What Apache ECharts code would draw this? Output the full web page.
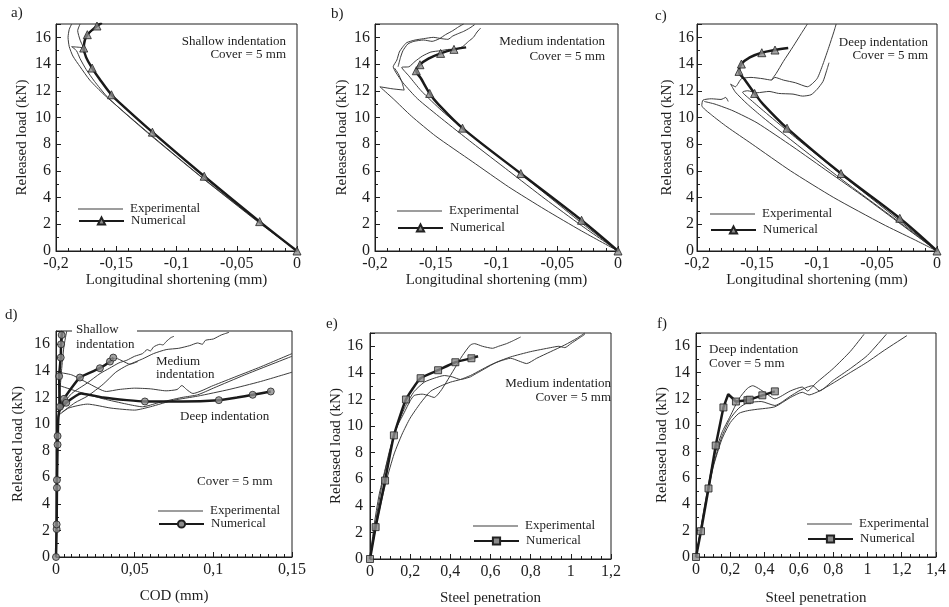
<!DOCTYPE html>
<html>
<head>
<meta charset="utf-8">
<script src="https://cdn.jsdelivr.net/npm/echarts@6/dist/echarts.min.js"></script>
<style>html,body{margin:0;padding:0;background:#fff}#main{width:949px;height:607px}</style>
</head>
<body>
<div id="main"></div>
<script>
// ---- data: [x, load kN] ----
// a) shallow indentation, longitudinal shortening (mm)
var expA1 = [[0,0],[-0.032,2.2],[-0.08,5.6],[-0.124,8.9],[-0.146,10.6],[-0.16,11.7],[-0.172,12.8],[-0.18,13.8],[-0.186,14.6],[-0.189,15.3],[-0.19,16.0],[-0.189,16.6],[-0.187,17]];
var expA2 = [[0,0],[-0.032,2.15],[-0.079,5.5],[-0.122,8.7],[-0.145,10.5],[-0.158,11.6],[-0.168,12.7],[-0.175,13.6],[-0.18,14.4],[-0.183,15.0],[-0.187,15.3],[-0.18,15.25],[-0.177,15.2],[-0.18,15.8],[-0.182,16.5],[-0.18,17]];
var expA3 = [[-0.178,15.0],[-0.176,15.9],[-0.171,16.4],[-0.166,16.8],[-0.162,17]];
var numA = [[0,0],[-0.031,2.2],[-0.077,5.6],[-0.12,8.9],[-0.146,11.0],[-0.154,11.7],[-0.164,12.9],[-0.17,13.7],[-0.175,14.5],[-0.177,15.2],[-0.176,15.8],[-0.174,16.2],[-0.166,16.85],[-0.162,17.1]];
var marksA = [[0,0],[-0.031,2.2],[-0.077,5.6],[-0.12,8.9],[-0.154,11.7],[-0.17,13.7],[-0.177,15.2],[-0.174,16.2],[-0.166,16.85]];

// b) medium indentation
var expB1 = [[0,0],[-0.03,1.5],[-0.06,3.1],[-0.09,4.8],[-0.12,6.7],[-0.15,8.6],[-0.17,10.1],[-0.185,11.4],[-0.196,12.3],[-0.186,12.15],[-0.176,12.05],[-0.178,12.7],[-0.181,13.3],[-0.184,13.7]];
var expB2 = [[0,0],[-0.03,1.9],[-0.06,3.9],[-0.09,6.0],[-0.12,8.1],[-0.145,9.9],[-0.165,11.4],[-0.177,12.6],[-0.183,13.4],[-0.185,13.8],[-0.182,14.3],[-0.18,14.9],[-0.177,15.3],[-0.174,15.6],[-0.167,15.8],[-0.16,15.9],[-0.152,16.0],[-0.145,15.9],[-0.14,15.85],[-0.136,16.1],[-0.131,16.3],[-0.127,16.45],[-0.122,16.7],[-0.118,16.95]];
var expB3 = [[0,0],[-0.03,2.1],[-0.06,4.3],[-0.09,6.5],[-0.12,8.6],[-0.145,10.5],[-0.162,12.0],[-0.172,13.1],[-0.178,13.75],[-0.172,13.8],[-0.167,14.2],[-0.161,14.6],[-0.154,14.9],[-0.146,15.0],[-0.139,15.1],[-0.134,15.1],[-0.128,15.3],[-0.123,15.7],[-0.119,16.0],[-0.116,16.4],[-0.113,16.7]];
var expB4 = [[-0.181,13.8],[-0.179,14.5],[-0.177,15.0],[-0.173,15.5],[-0.168,15.7],[-0.16,15.8],[-0.153,15.7],[-0.147,15.9],[-0.142,16.2],[-0.136,16.5],[-0.131,16.8],[-0.127,17]];
var numB = [[0,0],[-0.03,2.3],[-0.08,5.8],[-0.128,9.2],[-0.148,11.0],[-0.155,11.8],[-0.162,12.9],[-0.166,13.5],[-0.163,13.95],[-0.156,14.4],[-0.146,14.8],[-0.135,15.1],[-0.125,15.25]];
var marksB = [[0,0],[-0.03,2.3],[-0.08,5.8],[-0.128,9.2],[-0.155,11.8],[-0.166,13.5],[-0.163,13.95],[-0.146,14.8],[-0.135,15.1]];

// c) deep indentation
var expC1 = [[0,0],[-0.02,0.9],[-0.045,2.0],[-0.086,4.0],[-0.122,6.0],[-0.154,8.0],[-0.175,9.3],[-0.188,10.2],[-0.196,10.9],[-0.195,11.3],[-0.188,11.4],[-0.18,11.35],[-0.176,11.5],[-0.174,11.2]];
var expC2 = [[0,0],[-0.03,2.0],[-0.06,4.0],[-0.09,5.9],[-0.12,7.8],[-0.15,9.6],[-0.17,10.5],[-0.185,11.0],[-0.194,11.2]];
var expC3 = [[0,0],[-0.035,2.4],[-0.08,5.4],[-0.12,8.2],[-0.145,10.0],[-0.158,11.0],[-0.168,11.9],[-0.172,12.5],[-0.168,12.3],[-0.163,12.9],[-0.155,13.0],[-0.145,12.9],[-0.138,12.8],[-0.135,13.0],[-0.128,12.8],[-0.118,12.6],[-0.108,12.3],[-0.1,12.9],[-0.095,14.0],[-0.09,15.3],[-0.086,16.4],[-0.084,17]];
var expC4 = [[0,0],[-0.033,2.4],[-0.078,5.6],[-0.118,8.5],[-0.142,10.3],[-0.155,11.3],[-0.162,11.9],[-0.158,12.0],[-0.15,11.85],[-0.14,11.95],[-0.132,11.8],[-0.12,11.75],[-0.112,11.6],[-0.105,11.7],[-0.1,12.1],[-0.095,12.7],[-0.092,13.5],[-0.09,14.1]];
var expC5 = [[-0.138,12.8],[-0.134,13.3],[-0.128,14.2],[-0.12,15.3],[-0.113,16.3],[-0.108,17]];
var numC = [[0,0],[-0.031,2.45],[-0.08,5.8],[-0.125,9.2],[-0.145,11.0],[-0.152,11.8],[-0.16,12.8],[-0.165,13.45],[-0.163,14.0],[-0.156,14.5],[-0.146,14.85],[-0.135,15.05],[-0.124,15.2]];
var marksC = [[0,0],[-0.031,2.45],[-0.08,5.8],[-0.125,9.2],[-0.152,11.8],[-0.165,13.45],[-0.163,14.0],[-0.146,14.85],[-0.135,15.05]];

// d) crack opening displacement (mm)
var expD1 = [[0,0],[0.0003,3],[0.0006,6],[0.001,9],[0.0015,11],[0.002,13],[0.003,15],[0.0045,17]];
var expD2 = [[0,0],[0.0005,4],[0.001,8],[0.002,11.5],[0.0035,14],[0.005,15.8],[0.0068,17]];
var expD3 = [[0.003,11.3],[0.01,12.3],[0.02,13.1],[0.028,13.8],[0.034,14.2],[0.04,14.6],[0.045,14.8],[0.05,15.1],[0.055,15.3],[0.058,15.6],[0.06,15.5],[0.062,15.8],[0.066,16.0],[0.068,15.95],[0.07,16.2],[0.073,16.5],[0.075,16.6]];
var expD4 = [[0.004,10.9],[0.012,11.6],[0.02,12.1],[0.03,13.0],[0.038,13.9],[0.045,14.4],[0.055,14.9],[0.062,15.3],[0.07,15.6],[0.078,15.7],[0.085,15.9],[0.09,16.1],[0.093,16.0],[0.095,16.3],[0.1,16.4],[0.105,16.7],[0.11,16.9]];
var expD5 = [[0.034,14.9],[0.038,14.95],[0.043,14.7],[0.047,14.5],[0.052,14.7]];
var expD6 = [[0.001,13.9],[0.01,13.7],[0.02,13.1],[0.032,12.45],[0.04,12.6],[0.05,12.7],[0.06,12.65],[0.07,12.5],[0.077,12.6],[0.08,12.9],[0.083,12.6],[0.087,12.3],[0.1,12.9],[0.115,13.6],[0.13,14.3],[0.15,15.3]];
var expD7 = [[0.002,12.9],[0.015,12.4],[0.03,11.9],[0.045,11.5],[0.055,11.3],[0.065,11.6],[0.08,12.0],[0.09,12.2],[0.1,12.7],[0.12,13.7],[0.15,15.1]];
var expD8 = [[0.001,10.6],[0.008,11.2],[0.02,11.5],[0.035,11.2],[0.05,11.05],[0.06,11.3],[0.075,11.8],[0.09,12.1],[0.11,12.6],[0.13,13.2],[0.15,13.9]];
var numD1 = [[0,0],[0.0004,2.1],[0.0006,5.2],[0.001,8.4],[0.0015,10.5],[0.0025,11.3],[0.0022,12.5],[0.002,13.6],[0.003,15.0],[0.0032,16.0],[0.0036,16.7],[0.004,17]];
var marksD1 = [[0,0],[0.0004,2.1],[0.0004,2.45],[0.0006,5.2],[0.0006,5.8],[0.001,8.45],[0.001,9.1],[0.0025,11.3],[0.002,13.6],[0.003,15.0],[0.0032,16.0],[0.0036,16.7]];
var numD2 = [[0.0025,11.1],[0.0051,11.9],[0.0152,13.5],[0.0279,14.2],[0.0343,14.7],[0.0364,15.0]];
var marksD2 = [[0.0051,11.9],[0.0152,13.5],[0.0279,14.2],[0.0343,14.7],[0.0364,15.0]];
var numD3 = [[0.002,11.0],[0.0065,11.6],[0.016,12.3],[0.03,12.0],[0.045,11.8],[0.0565,11.7],[0.08,11.7],[0.1035,11.8],[0.115,12.0],[0.125,12.2],[0.1365,12.45]];
var marksD3 = [[0.0065,11.6],[0.0565,11.7],[0.1035,11.8],[0.125,12.2],[0.1365,12.45]];

// e) medium indentation, steel penetration
var expE1 = [[0,0],[0.02,2.5],[0.045,4.8],[0.07,6.4],[0.1,8.3],[0.13,9.8],[0.17,11.0],[0.2,11.9],[0.22,12.3],[0.26,12.4],[0.29,12.3],[0.32,12.15],[0.35,12.6],[0.38,13.3],[0.42,14.3],[0.46,15.3],[0.5,16.1],[0.52,16.2],[0.56,16.0],[0.61,15.85],[0.64,16.0],[0.68,16.2],[0.71,16.4],[0.75,16.7]];
var expE2 = [[0,0],[0.03,3.0],[0.06,5.6],[0.1,8.2],[0.14,10.2],[0.18,11.6],[0.22,12.6],[0.27,13.3],[0.32,13.6],[0.37,13.8],[0.41,13.7],[0.45,13.5],[0.5,13.7]];
var expE3 = [[0,0],[0.04,3.2],[0.08,5.8],[0.12,7.9],[0.16,9.4],[0.2,10.6],[0.25,11.7],[0.3,12.6],[0.35,13.0],[0.4,13.3],[0.45,13.5],[0.5,13.8],[0.55,14.2],[0.6,14.6],[0.65,14.9],[0.7,15.1],[0.74,14.9],[0.78,14.7],[0.83,15.1],[0.9,15.6],[0.97,16.1],[1.03,16.6],[1.07,17]];
var expE4 = [[0.5,13.7],[0.57,14.3],[0.63,14.8],[0.7,15.2],[0.8,15.6],[0.9,15.9],[0.94,16.0],[0.97,15.9],[1.0,16.2],[1.04,16.6],[1.07,16.9]];
var numE = [[0,0],[0.028,2.4],[0.075,5.9],[0.119,9.3],[0.179,12.0],[0.252,13.6],[0.339,14.2],[0.425,14.8],[0.505,15.1],[0.538,15.25]];
var marksE = [[0,0],[0.028,2.4],[0.075,5.9],[0.119,9.3],[0.179,12.0],[0.252,13.6],[0.339,14.2],[0.425,14.8],[0.505,15.1]];

// f) deep indentation, steel penetration
var expF1 = [[0,0],[0.05,3.9],[0.1,7.3],[0.15,9.4],[0.2,10.7],[0.25,12.0],[0.3,12.8],[0.33,13.0],[0.4,12.5],[0.46,12.0],[0.55,12.6],[0.62,12.9],[0.65,12.6],[0.7,13.2],[0.8,14.3],[0.9,15.6],[0.98,16.9]];
var expF2 = [[0,0],[0.05,3.7],[0.1,6.9],[0.15,9.1],[0.2,10.5],[0.25,11.3],[0.3,11.7],[0.38,11.8],[0.46,11.5],[0.55,12.2],[0.6,12.6],[0.65,12.9],[0.68,13.0],[0.72,12.6],[0.8,13.4],[0.9,14.3],[1.0,15.3],[1.11,16.9]];
var expF3 = [[0,0],[0.05,3.6],[0.1,6.8],[0.15,8.9],[0.2,10.2],[0.25,10.9],[0.3,11.1],[0.35,11.2],[0.46,11.4],[0.55,12.1],[0.62,12.5],[0.66,12.3],[0.72,12.6],[0.8,13.2],[0.9,14.0],[1.0,14.8],[1.1,15.7],[1.23,16.8]];
var numF = [[0,0],[0.029,1.96],[0.073,5.2],[0.115,8.46],[0.16,11.35],[0.188,12.35],[0.233,11.8],[0.3,11.9],[0.313,11.94],[0.387,12.27],[0.46,12.57]];
var marksF = [[0,0],[0.029,1.96],[0.073,5.2],[0.115,8.46],[0.16,11.35],[0.233,11.8],[0.3,11.9],[0.313,11.94],[0.387,12.27],[0.46,12.57]];

var loadTicks = {min: 0, max: 17, interval: 2};

var FONT = '"Liberation Serif", "Times New Roman", serif';
var INK = '#1e1e1e';
var EXP = '#3c3c3c';

function fmtDec(v) { return String(+v.toFixed(3)).replace('.', ','); }
function fmtLoad(v) { return v % 2 === 0 ? String(v) : ''; }

var panels = [
  {key:'A', grid:{left:56, top:24, width:241, height:227}, x:{min:-0.2, max:0, interval:0.05, minor:5},
   xName:'Longitudinal shortening (mm)', xGap:20, yGap:26, yMargin:5,
   exp:[expA1, expA2, expA3], num:[numA], marks:[marksA], sym:'triangle', size:8, sm:0.35, leg:[78, 209, 221]},
  {key:'B', grid:{left:375, top:24, width:243, height:227}, x:{min:-0.2, max:0, interval:0.05, minor:5},
   xName:'Longitudinal shortening (mm)', xGap:20, yGap:25, yMargin:5,
   exp:[expB1, expB2, expB3, expB4], num:[numB], marks:[marksB], sym:'triangle', size:8, sm:0.35, leg:[397, 211, 228]},
  {key:'C', grid:{left:697, top:24, width:240, height:227}, x:{min:-0.2, max:0, interval:0.05, minor:5},
   xName:'Longitudinal shortening (mm)', xGap:20, yGap:17, yMargin:3,
   exp:[expC1, expC2, expC3, expC4, expC5], num:[numC], marks:[marksC], sym:'triangle', size:8, sm:0.35, leg:[710, 214, 230]},
  {key:'D', grid:{left:56, top:331, width:236, height:226}, x:{min:0, max:0.15, interval:0.05, minor:10},
   xName:'COD (mm)', xGap:32, yGap:30, yMargin:6,
   exp:[expD1, expD2, expD3, expD4, expD5, expD6, expD7, expD8], num:[numD1, numD2, numD3], marks:[marksD1, marksD2, marksD3], sym:'circle', size:7, sm:0.15, leg:[158, 511, 524]},
  {key:'E', grid:{left:370, top:333, width:241, height:226}, x:{min:0, max:1.2, interval:0.2, minor:4},
   xName:'Steel penetration', xGap:32, yGap:25, yMargin:7,
   exp:[expE1, expE2, expE3, expE4], num:[numE], marks:[marksE], sym:'rect', size:7, sm:0.15, leg:[473, 526, 541]},
  {key:'F', grid:{left:696, top:333, width:242, height:224}, x:{min:0, max:1.4, interval:0.2, minor:4},
   xName:'Steel penetration', xGap:34, yGap:26, yMargin:6,
   exp:[expF1, expF2, expF3], num:[numF], marks:[marksF], sym:'rect', size:7, sm:0, leg:[807, 524, 539]}
];

var grids = [], xAxes = [], yAxes = [], series = [], legends = [];

panels.forEach(function (p, i) {
  grids.push(Object.assign({show: true, borderColor: INK, borderWidth: 1, backgroundColor: 'transparent'}, p.grid));
  xAxes.push({
    type: 'value', gridIndex: i, min: p.x.min, max: p.x.max, interval: p.x.interval,
    axisLine: {onZero: false, lineStyle: {color: INK, width: 1}},
    axisTick: {inside: true, length: 5, lineStyle: {color: INK}},
    minorTick: {show: true, splitNumber: p.x.minor, length: 3, lineStyle: {color: INK}},
    splitLine: {show: false},
    axisLabel: {formatter: fmtDec, margin: 5, fontFamily: FONT, fontSize: 16, color: INK},
    name: p.xName, nameLocation: 'middle', nameGap: p.xGap,
    nameTextStyle: {fontFamily: FONT, fontSize: 15, color: INK}
  });
  yAxes.push({
    type: 'value', gridIndex: i, min: loadTicks.min, max: loadTicks.max, interval: loadTicks.interval,
    axisLine: {onZero: false, lineStyle: {color: INK, width: 1}},
    axisTick: {inside: true, length: 5, lineStyle: {color: INK}},
    minorTick: {show: true, splitNumber: 2, length: 3, lineStyle: {color: INK}},
    splitLine: {show: false},
    axisLabel: {formatter: fmtLoad, margin: p.yMargin, fontFamily: FONT, fontSize: 16, color: INK},
    name: 'Released load (kN)', nameLocation: 'middle', nameGap: p.yGap, nameRotate: 90,
    nameTextStyle: {fontFamily: FONT, fontSize: 15, color: INK}
  });

  p.exp.forEach(function (c) {
    series.push({
      type: 'line', name: 'exp' + p.key, xAxisIndex: i, yAxisIndex: i, data: c,
      symbol: 'none', smooth: 0.2, silent: true, z: 2,
      lineStyle: {color: EXP, width: 1}, itemStyle: {color: EXP}
    });
  });
  var markStyle = {color: '#8c8c8c', borderColor: '#222', borderWidth: 1};
  p.num.forEach(function (c) {
    series.push({
      type: 'line', name: 'num' + p.key, xAxisIndex: i, yAxisIndex: i, data: c,
      symbol: p.sym, symbolSize: p.size, showSymbol: false, smooth: p.sm, silent: true, z: 3,
      lineStyle: {color: '#1a1a1a', width: 2.5}, itemStyle: markStyle
    });
  });
  p.marks.forEach(function (c) {
    series.push({
      type: 'scatter', name: 'num' + p.key, xAxisIndex: i, yAxisIndex: i, data: c,
      symbol: p.sym, symbolSize: p.size, silent: true, z: 4, itemStyle: markStyle
    });
  });

  var legText = {fontFamily: FONT, fontSize: 13, color: INK, lineHeight: 16, padding: [0, 0, 0, 2]};
  legends.push({
    data: ['exp' + p.key], left: p.leg[0], top: p.leg[1] - 8, padding: 0, orient: 'vertical',
    icon: 'rect', itemWidth: 45, itemHeight: 1, selectedMode: false, textStyle: legText,
    formatter: function () { return 'Experimental'; }
  });
  legends.push({
    data: ['num' + p.key], left: p.leg[0], top: p.leg[2] - 8, padding: 0, orient: 'vertical',
    itemWidth: 45, itemHeight: 9, selectedMode: false, textStyle: legText,
    formatter: function () { return 'Numerical'; }
  });
});

function label(t, x, y, align, size) {
  return {
    type: 'text', z: 101,
    style: {
      text: t, x: x, y: y, font: (size || 13) + 'px ' + FONT, fill: INK,
      align: align, textAlign: align, verticalAlign: 'middle', textVerticalAlign: 'middle'
    }
  };
}

var graphics = [
  {type: 'rect', z: 100, shape: {x: 72, y: 327, width: 65, height: 8}, style: {fill: '#fff'}},
  label('a)', 11, 13, 'left', 15), label('b)', 331, 14, 'left', 15), label('c)', 655, 16, 'left', 15),
  label('d)', 5, 315, 'left', 15), label('e)', 326, 324, 'left', 15), label('f)', 657, 324, 'left', 15),
  label('Shallow indentation', 286, 42, 'right'), label('Cover = 5 mm', 286, 55, 'right'),
  label('Medium indentation', 605, 42, 'right'), label('Cover = 5 mm', 605, 57, 'right'),
  label('Deep indentation', 928, 43, 'right'), label('Cover = 5 mm', 928, 56, 'right'),
  label('Shallow', 76, 330, 'left'), label('indentation', 76, 345, 'left'),
  label('Medium', 156, 362, 'left'), label('indentation', 156, 375, 'left'),
  label('Deep indentation', 180, 417, 'left'), label('Cover = 5 mm', 197, 482, 'left'),
  label('Medium indentation', 611, 384, 'right'), label('Cover = 5 mm', 611, 398, 'right'),
  label('Deep indentation', 709, 350, 'left'), label('Cover = 5 mm', 709, 364, 'left')
];

var chart = echarts.init(document.getElementById('main'));
chart.setOption({
  animation: false,
  backgroundColor: '#fff',
  grid: grids,
  xAxis: xAxes,
  yAxis: yAxes,
  legend: legends,
  series: series,
  graphic: graphics
});
</script>
</body>
</html>
